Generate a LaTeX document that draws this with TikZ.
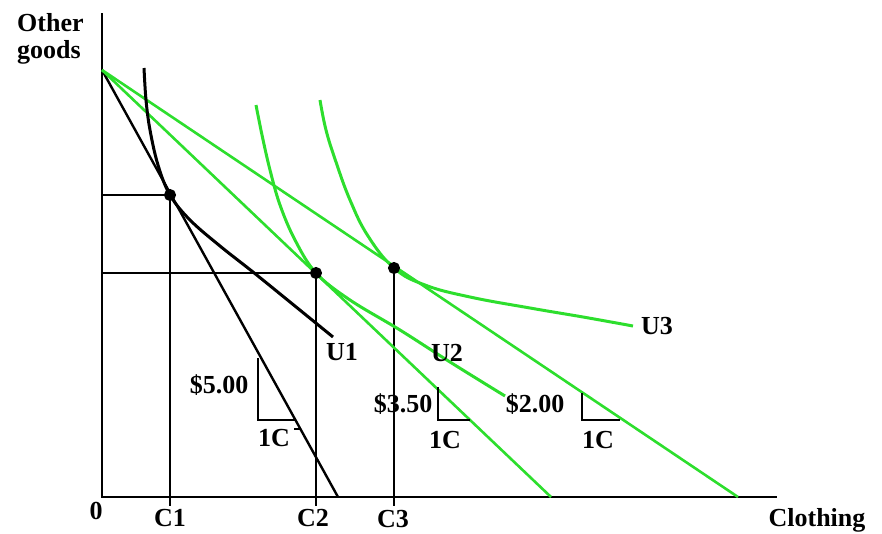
\documentclass[tikz,border=0pt]{standalone}
\usepackage{fontspec}
\setmainfont{Liberation Serif}
\definecolor{grn}{RGB}{45,222,45}
\begin{document}
\begin{tikzpicture}[x=1pt,y=-1pt,
  lbl/.style={font=\fontsize{26}{28}\selectfont\bfseries, inner sep=0pt},
  axis/.style={line width=1.8pt, black},
  guide/.style={line width=1.6pt, black},
  budgetk/.style={line width=2.4pt, black},
  budgetg/.style={line width=2.6pt, grn},
  curvek/.style={line width=3pt, black},
  curveg/.style={line width=3pt, grn},
  tri/.style={line width=1.5pt, black},
  dotk/.style={circle, draw=black, line width=2pt, fill=black, minimum size=10pt, inner sep=0pt}]
\useasboundingbox (0,0) rectangle (882,533);
% axes
\coordinate (ytop) at (102,13);
\coordinate (O) at (102,497);
\coordinate (xend) at (777,497);
\draw[axis] (ytop) -- (O) -- (xend);
% points
\coordinate (A) at (102,70);
\coordinate (B1) at (338,497);
\coordinate (B2) at (551,497);
\coordinate (B3) at (738,497);
\coordinate (P1) at (170,195);
\coordinate (P2) at (316,273);
\coordinate (P3) at (394,268);
% guide lines
\draw[guide] (102,195) -- (P1) -- (170,506);
\draw[guide] (102,273) -- (P2) -- (316,506);
\draw[guide] (P3) -- (394,506);
% budget lines
\draw[budgetk] (A) -- (B1);
\draw[budgetg] (A) -- (B2);
\draw[budgetg] (A) -- (B3);
% indifference curves
\draw[curvek] plot[smooth, tension=0.6] coordinates {(144,68) (146,100) (150,130) (158,165) (170,195) (190,220) (220,246) (253,272) (290,302) (333,337)};
\draw[curveg] plot[smooth, tension=0.6] coordinates {(256,105) (262,135) (270,170) (280,205) (295,240) (316,273) (350,300) (400,330) (450,362) (505,396)};
\draw[curveg] plot[smooth, tension=0.7] coordinates {(320,100) (326,130) (336,162) (350,200) (368,236) (394,268) (425,285) (470,297) (530,308) (583,317) (633,326)};
% dots
\node[dotk] (d1) at (P1) {};
\node[dotk] (d2) at (P2) {};
\node[dotk] (d3) at (P3) {};
% slope triangles
\draw[tri] (258,358) -- (258,420) -- (296,420);
\draw[tri] (294,429) -- (300,429);
\draw[tri] (438,387) -- (438,420) -- (470,420);
\draw[tri] (582,393) -- (582,420) -- (620,420);
% labels
\node[lbl, anchor=west] (og1) at (17,23) {Other};
\node[lbl, anchor=west] (og2) at (17,52) {goods};
\node[lbl] (zero) at (96,511) {0};
\node[lbl] (c1) at (170,518) {C1};
\node[lbl] (c2) at (313,518) {C2};
\node[lbl] (c3) at (393,519) {C3};
\node[lbl] (cl) at (817,520) {Clothing};
\node[lbl] (u1) at (342,352) {U1};
\node[lbl] (u2) at (447,353) {U2};
\node[lbl] (u3) at (657,326) {U3};
\node[lbl] (p5) at (219,385) {\$5.00};
\node[lbl] (p35) at (403,404) {\$3.50};
\node[lbl] (p2) at (535,404) {\$2.00};
\node[lbl] (k1) at (274,438) {1C};
\node[lbl] (k2) at (445,440) {1C};
\node[lbl] (k3) at (598,440) {1C};
\end{tikzpicture}
\end{document}
